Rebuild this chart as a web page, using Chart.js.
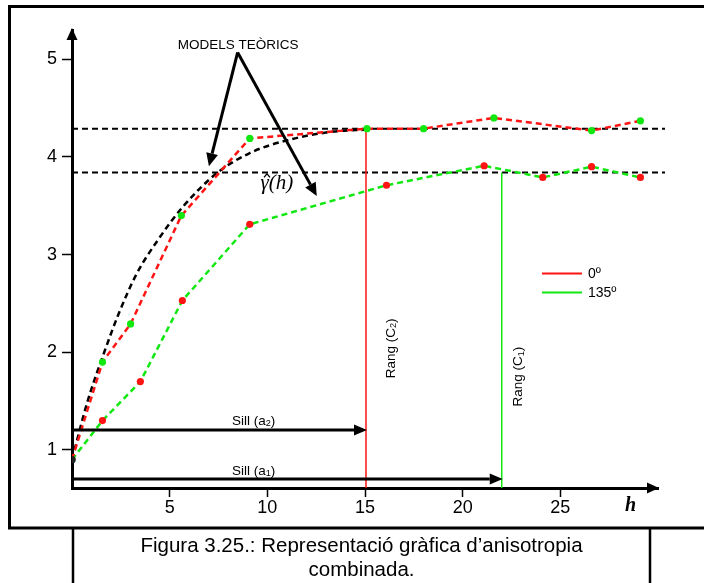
<!DOCTYPE html>
<html lang="ca">
<head>
<meta charset="utf-8">
<script src="https://cdn.jsdelivr.net/npm/chart.js@4.4.0/dist/chart.umd.min.js"></script>
<style>
  html, body { margin: 0; padding: 0; background: #fff; }
  #wrap { position: relative; width: 704px; height: 583px; }
</style>
</head>
<body>
<div id="wrap"><canvas id="variograma" width="704" height="583"></canvas></div>
<script>
// semivariograma experimental, llegit del gràfic
const lag0     = [0, 1.56, 3.0, 5.6, 9.1, 15.1, 18.0, 21.6, 26.6, 29.1];
const gamma0   = [0.9, 1.90, 2.29, 3.40, 4.19, 4.29, 4.29, 4.40, 4.27, 4.37];
const lag135   = [0, 1.56, 3.5, 5.65, 9.1, 16.1, 21.1, 24.1, 26.6, 29.1];
const gamma135 = [0.9, 1.30, 1.70, 2.53, 3.31, 3.71, 3.91, 3.79, 3.90, 3.79];
// model teòric (corba negra)
const lagModel   = [0, 0.8, 1.65, 2.4, 3.3, 4.4, 5.68, 7.39, 9.1, 11, 13.4, 15.1];
const gammaModel = [0.9, 1.5, 2.0, 2.4, 2.8, 3.15, 3.49, 3.83, 4.04, 4.17, 4.26, 4.28];
const sills  = [4.29, 3.84];   // 0º, 135º
const ranges = [15.05, 22];    // Rang (C2), Rang (C1)
const xTicks = [5, 10, 15, 20, 25];
const yTicks = [1, 2, 3, 4, 5];
const seriesNames = ['0º', '135º'];

const RED = '#ff1414';
const GREEN = '#10e810';
const X_MIN = 0, X_MAX = 30, Y_MIN = 0.61, Y_MAX = 5.3;
const SANS = '"Liberation Sans", Arial, sans-serif';
const SERIF = '"Liberation Serif", "Times New Roman", serif';

function pts(xs, ys) { return xs.map((x, i) => ({ x: x, y: ys[i] })); }
// marker colours are swapped w.r.t. the line, first point is dark
function marks(n, c) { return Array.from({ length: n }, (_, i) => i === 0 ? '#222' : c); }

function arrow(ctx, x0, y0, x1, y1, len, half, lw) {
    const a = Math.atan2(y1 - y0, x1 - x0);
    const bx = x1 - len * Math.cos(a), by = y1 - len * Math.sin(a);
    ctx.lineWidth = lw;
    ctx.beginPath(); ctx.moveTo(x0, y0); ctx.lineTo(bx, by); ctx.stroke();
    ctx.beginPath();
    ctx.moveTo(x1, y1);
    ctx.lineTo(bx + half * Math.sin(a), by - half * Math.cos(a));
    ctx.lineTo(bx - half * Math.sin(a), by + half * Math.cos(a));
    ctx.closePath(); ctx.fill();
}

// text with a subscript part: parts = [[text, isSub], ...]
function subText(ctx, parts, x, y, size) {
    const f = s => (s ? size * 0.68 : size) + 'px ' + SANS;
    let w = 0;
    parts.forEach(p => { ctx.font = f(p[1]); w += ctx.measureText(p[0]).width; });
    let cx = x - w / 2;
    ctx.textAlign = 'left';
    ctx.textBaseline = 'middle';
    parts.forEach(p => {
        ctx.font = f(p[1]);
        ctx.fillText(p[0], cx, y + (p[1] ? size * 0.2 : 0));
        cx += ctx.measureText(p[0]).width;
    });
}

const extras = {
    id: 'extras',
    afterDraw(chart) {
        const ctx = chart.ctx, xs = chart.scales.x, ys = chart.scales.y, area = chart.chartArea;
        const X = v => xs.getPixelForValue(v), Y = v => ys.getPixelForValue(v);
        ctx.save();
        ctx.fillStyle = '#000';
        ctx.strokeStyle = '#000';

        // axis arrow heads
        ctx.beginPath();
        ctx.moveTo(area.left, area.top - 2);
        ctx.lineTo(area.left - 5.5, area.top + 10);
        ctx.lineTo(area.left + 5.5, area.top + 10);
        ctx.closePath(); ctx.fill();
        ctx.beginPath();
        ctx.moveTo(area.right + 1, area.bottom);
        ctx.lineTo(area.right - 11, area.bottom - 5.5);
        ctx.lineTo(area.right - 11, area.bottom + 5.5);
        ctx.closePath(); ctx.fill();

        // h label
        ctx.font = 'bold italic 20px ' + SERIF;
        ctx.textAlign = 'center';
        ctx.textBaseline = 'middle';
        ctx.fillText('h', X(28.6), area.bottom + 18);

        // sill arrows
        arrow(ctx, X(0), Y(1.205), X(ranges[0]) + 1, Y(1.205), 13, 5.5, 3);
        arrow(ctx, X(0), Y(0.703), X(ranges[1]) + 1, Y(0.703), 13, 5.5, 3);
        subText(ctx, [['Sill (a', false], ['2', true], [')', false]], X(9.3), Y(1.205) - 9, 13.5);
        subText(ctx, [['Sill (a', false], ['1', true], [')', false]], X(9.3), Y(0.703) - 8, 13.5);

        // range labels (rotated)
        [[ranges[0], 25, 2.04, '2'], [ranges[1], 17, 1.75, '1']].forEach(r => {
            ctx.save();
            ctx.translate(X(r[0]) + r[1], Y(r[2]));
            ctx.rotate(-Math.PI / 2);
            subText(ctx, [['Rang (C', false], [r[3], true], [')', false]], 0, 0, 13.5);
            ctx.restore();
        });

        // MODELS TEÒRICS
        ctx.font = '13.5px ' + SANS;
        ctx.textAlign = 'center';
        ctx.textBaseline = 'middle';
        ctx.fillText('MODELS TEÒRICS', X(8.5), Y(5.0) - 14);
        arrow(ctx, X(8.48), Y(5.07), X(7.01), Y(3.905), 13, 6, 3);
        arrow(ctx, X(8.48), Y(5.07), X(12.53), Y(3.60), 13, 6, 3);

        // gamma hat (h)
        ctx.font = 'italic 21px ' + SERIF;
        ctx.textAlign = 'left';
        ctx.textBaseline = 'middle';
        const gx = X(10.52) - 17, gy = Y(3.74);
        ctx.fillText('γ(h)', gx, gy + 1);
        ctx.lineWidth = 1.3;
        ctx.beginPath();
        ctx.moveTo(gx + 3.5, gy - 5); ctx.lineTo(gx + 6.5, gy - 8.5); ctx.lineTo(gx + 9.5, gy - 5);
        ctx.stroke();

        // legend
        ctx.font = '14px ' + SANS;
        [[RED, 273.5], [GREEN, 292.5]].forEach((l, i) => {
            ctx.strokeStyle = l[0];
            ctx.lineWidth = 2;
            ctx.beginPath(); ctx.moveTo(542, l[1]); ctx.lineTo(582, l[1]); ctx.stroke();
            ctx.fillStyle = '#000';
            ctx.fillText(seriesNames[i], 588, l[1] + 1);
        });

        // frames
        ctx.strokeStyle = '#000';
        ctx.lineWidth = 3;
        ctx.beginPath();
        ctx.moveTo(710, 6.5); ctx.lineTo(9.5, 6.5); ctx.lineTo(9.5, 528); ctx.lineTo(710, 528);
        ctx.stroke();
        ctx.lineWidth = 2.5;
        ctx.beginPath();
        ctx.moveTo(73, 528); ctx.lineTo(73, 590);
        ctx.moveTo(650, 528); ctx.lineTo(650, 590);
        ctx.stroke();

        // caption
        ctx.font = '20.5px ' + SANS;
        ctx.textAlign = 'center';
        ctx.fillText('Figura 3.25.: Representació gràfica d’anisotropia', 361.5, 546);
        ctx.fillText('combinada.', 361.5, 570);
        ctx.restore();
    }
};

const lineBase = { showLine: true, borderWidth: 2.5, borderDash: [6, 4], pointBorderWidth: 0, pointRadius: 3.6 };

new Chart(document.getElementById('variograma'), {
    type: 'scatter',
    data: {
        datasets: [
            Object.assign({ label: seriesNames[0], data: pts(lag0, gamma0), borderColor: RED,
                pointBackgroundColor: marks(lag0.length, GREEN) }, lineBase),
            Object.assign({ label: seriesNames[1], data: pts(lag135, gamma135), borderColor: GREEN,
                pointBackgroundColor: marks(lag135.length, RED) }, lineBase),
            { label: 'model', data: pts(lagModel, gammaModel), showLine: true, borderColor: '#000',
              borderWidth: 2.5, borderDash: [6, 4], pointRadius: 0, cubicInterpolationMode: 'monotone' },
            { label: 'rang 0', data: [{ x: ranges[0], y: sills[0] }, { x: ranges[0], y: Y_MIN }],
              showLine: true, borderColor: RED, borderWidth: 1.5, pointRadius: 0 },
            { label: 'rang 135', data: [{ x: ranges[1], y: sills[1] }, { x: ranges[1], y: Y_MIN }],
              showLine: true, borderColor: GREEN, borderWidth: 1.5, pointRadius: 0 },
            { label: 'sill 0', data: [{ x: X_MIN, y: sills[0] }, { x: 30.36, y: sills[0] }], clip: false,
              showLine: true, borderColor: '#000', borderWidth: 2, borderDash: [6, 4], pointRadius: 0 },
            { label: 'sill 135', data: [{ x: X_MIN, y: sills[1] }, { x: 30.36, y: sills[1] }], clip: false,
              showLine: true, borderColor: '#000', borderWidth: 2, borderDash: [6, 4], pointRadius: 0 }
        ]
    },
    options: {
        responsive: false,
        animation: false,
        layout: { padding: { top: 30, right: 46, left: 0, bottom: 0 } },
        plugins: { legend: { display: false }, tooltip: { enabled: false } },
        scales: {
            x: {
                type: 'linear', min: X_MIN, max: X_MAX,
                afterBuildTicks: s => { s.ticks = xTicks.map(v => ({ value: v })); },
                afterFit: s => { s.height = 95; },
                grid: { drawOnChartArea: false, drawTicks: true, tickLength: 9, tickWidth: 1.5, tickColor: '#000' },
                border: { display: true, color: '#000', width: 3 },
                ticks: { color: '#000', padding: 0, maxRotation: 0, font: { family: SANS, size: 18 } }
            },
            y: {
                type: 'linear', min: Y_MIN, max: Y_MAX,
                afterBuildTicks: s => { s.ticks = yTicks.map(v => ({ value: v })); },
                afterFit: s => { s.width = 72; },
                grid: { drawOnChartArea: false, drawTicks: true, tickLength: 10, tickWidth: 1.5, tickColor: '#000' },
                border: { display: true, color: '#000', width: 3 },
                ticks: { color: '#000', padding: 5, font: { family: SANS, size: 18 } }
            }
        }
    },
    plugins: [extras]
});
</script>
</body>
</html>
